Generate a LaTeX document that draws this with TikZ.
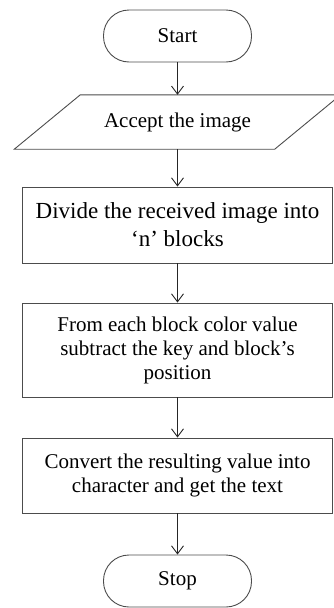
\documentclass[tikz,border=0pt]{standalone}
\usepackage{fontspec}
\setmainfont{Liberation Serif}
\usetikzlibrary{arrows.meta}

\begin{document}
\begin{tikzpicture}[x=1pt, y=-1pt,
          term/.style={rectangle, rounded corners=25.5pt, draw=black!70, line width=0.9pt,
                       minimum width=148pt, minimum height=52pt,
                       font=\fontsize{21}{24}\selectfont},
          io/.style={rectangle, inner sep=0pt, minimum width=260pt, minimum height=54pt,
                     font=\fontsize{21}{24}\selectfont},
          edge/.style={draw=black!70, line width=0.9pt},
          proc/.style={rectangle, draw=black!70, line width=0.9pt, minimum width=310pt,
                       align=center, font=\fontsize{21}{24}\selectfont},
          arr/.style={-{Straight Barb[length=8pt, width=12pt]}, line width=0.9pt, draw=black!85}
        ]
        \useasboundingbox (0,0) rectangle (334,608);

        \node[term] (start) at (177.5, 36) {Start};
        \node[io] (accept) at (177.5, 122) {Accept the image};
        \node[proc, minimum height=76pt, font=\fontsize{23}{28}\selectfont] (divide) at (177.5, 225)
              {Divide the received image into\\‘n’ blocks};
        \node[proc, minimum height=94pt] (subtract) at (177.5, 350)
              {From each block color value\\subtract the key and block’s\\position};
        \node[proc, minimum height=75pt] (convert) at (177.5, 475.5)
              {Convert the resulting value into\\character and get the text};
        \node[term] (stop) at (177.5, 581) {Stop};

        % slanted input box
        \draw[edge] ([xshift=33pt]accept.north west) -- ([xshift=33pt]accept.north east)
          -- ([xshift=-33pt]accept.south east) -- ([xshift=-33pt]accept.south west) -- cycle;

        \foreach \a/\b in {start/accept, accept/divide, divide/subtract,
                           subtract/convert, convert/stop} {
          \draw[arr] (\a)--(\b);
        }
      \end{tikzpicture}
\end{document}
